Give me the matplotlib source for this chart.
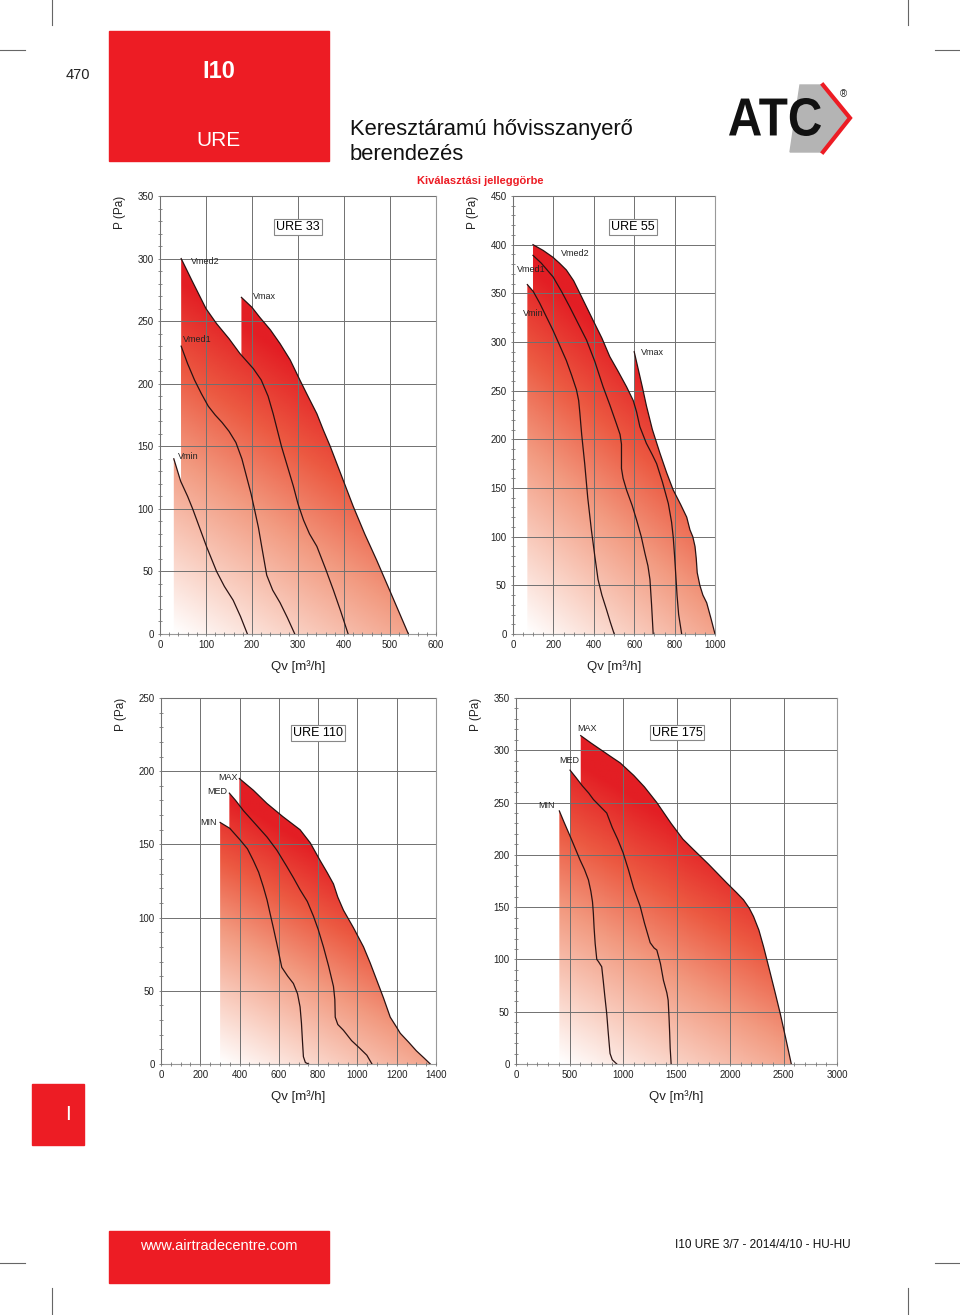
#!/usr/bin/env python3
"""
URE cross-flow heat recovery unit - selection curves page (I10 URE 3/7).
"""

import matplotlib

matplotlib.use("Agg")

import numpy as np
import matplotlib.pyplot as plt
from matplotlib.colors import LinearSegmentedColormap
from matplotlib.font_manager import FontProperties
from matplotlib.lines import Line2D
from matplotlib.patches import PathPatch, Polygon, Rectangle
from matplotlib.textpath import TextPath
from matplotlib.ticker import MultipleLocator
from matplotlib.transforms import Affine2D

plt.rcParams["font.family"] = ["Liberation Sans", "DejaVu Sans"]

# ---- data: Qv [m3/h] vs P [Pa] ----
URE33_VMIN_Q = [30, 45, 60, 71, 86, 101, 112, 123, 140, 159, 175, 190]
URE33_VMIN_P = [140, 122, 110, 100, 85, 70, 60, 50, 38, 27, 14, 0]
URE33_VMED1_Q = [46, 60, 75, 90, 105, 120, 135, 150, 165, 178, 188, 198, 207, 214, 222, 232, 245, 261, 277, 293]
URE33_VMED1_P = [230, 216, 203, 192, 182, 175, 169, 162, 153, 140, 126, 112, 97, 85, 68, 47, 35, 25, 13, 0]
URE33_VMED2_Q = [46, 70, 100, 123, 150, 174, 203, 220, 235, 246, 255, 264, 277, 290, 300, 312, 325, 341, 360, 377, 393, 409]
URE33_VMED2_P = [300, 282, 260, 248, 236, 224, 212, 203, 190, 176, 163, 150, 134, 118, 104, 91, 80, 70, 52, 35, 18, 0]
URE33_VMAX_Q = [177, 200, 217, 240, 261, 283, 304, 323, 341, 355, 370, 395, 420, 445, 471, 505, 540]
URE33_VMAX_P = [269, 261, 253, 243, 232, 219, 203, 189, 176, 163, 150, 126, 102, 80, 59, 30, 0]

URE55_VMIN_Q = [71, 100, 132, 165, 198, 230, 264, 290, 314, 325, 331, 340, 355, 370, 388, 405, 421, 440, 463, 482, 501]
URE55_VMIN_P = [359, 352, 340, 326, 312, 297, 281, 266, 251, 240, 227, 205, 175, 140, 107, 80, 56, 40, 25, 12, 0]
URE55_VMED1_Q = [99, 140, 198, 240, 281, 320, 364, 405, 446, 480, 512, 530, 537, 537, 545, 562, 590, 612, 635, 653, 668, 678, 686, 694]
URE55_VMED1_P = [389, 381, 367, 352, 336, 320, 302, 280, 254, 235, 216, 205, 195, 170, 160, 148, 132, 117, 100, 83, 70, 56, 30, 0]
URE55_VMED2_Q = [99, 150, 198, 230, 264, 300, 331, 364, 397, 440, 479, 520, 562, 595, 612, 628, 660, 690, 711, 740, 769, 785, 793, 800, 806, 812, 820, 835]
URE55_VMED2_P = [400, 394, 387, 381, 374, 363, 350, 336, 322, 304, 285, 270, 254, 240, 228, 213, 196, 184, 175, 156, 134, 115, 100, 80, 60, 40, 20, 0]
URE55_VMAX_Q = [600, 620, 640, 661, 690, 727, 760, 793, 830, 860, 876, 890, 901, 907, 912, 925, 940, 959, 980, 1000]
URE55_VMAX_P = [290, 272, 254, 234, 210, 186, 166, 148, 133, 120, 107, 100, 90, 78, 63, 50, 40, 32, 16, 0]

URE110_MIN_Q = [301, 350, 403, 440, 470, 497, 521, 540, 555, 572, 590, 615, 645, 674, 695, 708, 715, 720, 725, 735, 751]
URE110_MIN_P = [165, 161, 153, 147, 139, 131, 121, 112, 103, 93, 82, 66, 60, 55, 48, 39, 28, 16, 5, 1, 0]
URE110_MED_Q = [348, 380, 420, 480, 540, 590, 640, 675, 708, 745, 776, 800, 827, 853, 878, 885, 887, 900, 929, 970, 1010, 1048, 1074]
URE110_MED_P = [185, 180, 173, 164, 155, 146, 135, 127, 119, 111, 101, 92, 80, 67, 53, 44, 32, 27, 23, 16, 11, 6, 0]
URE110_MAX_Q = [399, 470, 539, 620, 708, 760, 810, 845, 878, 900, 929, 980, 1031, 1065, 1099, 1133, 1167, 1200, 1218, 1260, 1300, 1340, 1371]
URE110_MAX_P = [195, 187, 178, 169, 160, 151, 139, 131, 123, 114, 105, 93, 80, 69, 57, 45, 32, 25, 21, 15, 9, 4, 0]

URE175_MIN_Q = [405, 450, 505, 550, 599, 640, 677, 700, 715, 723, 730, 740, 755, 770, 801, 815, 830, 848, 862, 872, 879, 900, 942]
URE175_MIN_P = [242, 231, 218, 207, 195, 186, 176, 165, 155, 144, 130, 115, 100, 98, 93, 80, 65, 48, 30, 18, 10, 4, 0]
URE175_MED_Q = [505, 560, 620, 680, 723, 790, 848, 900, 950, 1001, 1050, 1100, 1160, 1200, 1254, 1290, 1316, 1350, 1378, 1410, 1422, 1430, 1436, 1441, 1450]
URE175_MED_P = [281, 274, 266, 259, 253, 246, 240, 226, 215, 202, 186, 168, 151, 135, 116, 111, 109, 96, 80, 68, 61, 45, 30, 15, 0]
URE175_MAX_Q = [605, 700, 800, 900, 973, 1100, 1200, 1316, 1450, 1560, 1659, 1800, 1971, 2060, 2126, 2180, 2220, 2270, 2314, 2376, 2420, 2470, 2520, 2573]
URE175_MAX_P = [314, 307, 300, 293, 288, 276, 265, 250, 230, 215, 205, 191, 173, 164, 157, 149, 141, 128, 112, 87, 69, 48, 25, 0]

RED = "#ed1c24"
W, H = 960, 1315

GRAD = LinearSegmentedColormap.from_list(
    "ure", [(0.0, "#ffffff"), (0.25, "#f9cdbf"), (0.5, "#f29a80"), (0.75, "#ec5a42"), (1.0, "#e31e24")]
)


def fx(x):
    return x / W


def fy(y):
    return 1 - y / H


def add_chart(fig, box, name, curves, xmax, ymax, xstep, xminor, name_pos):
    left, top, right, bottom = box
    ax = fig.add_axes([fx(left), fy(bottom), (right - left) / W, (bottom - top) / H])

    qmin = min(c[0][0] for c in curves)
    qmax = max(c[0][-1] for c in curves)
    pmax = max(c[1][0] for c in curves)
    gx, gy = np.meshgrid(np.linspace(0, xmax, 300), np.linspace(0, ymax, 300))
    t = np.clip(0.45 * (gx - qmin) / (qmax - qmin) + 1.05 * gy / pmax, 0, 1)

    for q, p, label, lx, ly in curves:
        verts = [(q[0], 0)] + list(zip(q, p))
        poly = Polygon(verts, closed=True, facecolor="none", edgecolor="none")
        ax.add_patch(poly)
        im = ax.imshow(t, extent=(0, xmax, 0, ymax), origin="lower", aspect="auto",
                       cmap=GRAD, vmin=0, vmax=1, zorder=1, interpolation="bilinear")
        im.set_clip_path(poly)
    for q, p, label, lx, ly in curves:
        ax.plot(q, p, color="#2a1212", lw=0.9, zorder=3)
        ax.text(lx, ly, label, fontsize=6.5, ha="left", va="center", color="#222", zorder=4)

    ax.set_xlim(0, xmax)
    ax.set_ylim(0, ymax)
    ax.set_xticks(np.arange(0, xmax + 1, xstep))
    ax.set_yticks(np.arange(0, ymax + 1, 50))
    ax.xaxis.set_minor_locator(MultipleLocator(xminor))
    ax.yaxis.set_minor_locator(MultipleLocator(10))
    ax.set_axisbelow(False)
    ax.grid(True, color="#707070", lw=0.7)
    ax.tick_params(which="both", direction="inout", color="#777", width=0.6, labelsize=7,
                   labelcolor="#222")
    ax.tick_params(which="major", length=3, pad=3)
    ax.tick_params(which="minor", length=2.5)
    for s in ax.spines.values():
        s.set_color("#999")
        s.set_linewidth(0.8)
    ax.text(name_pos[0], name_pos[1], name, fontsize=9, ha="center", va="center", zorder=5,
            bbox=dict(boxstyle="square,pad=0.15", fc="white", ec="#888", lw=0.8))

    fig.text(fx(left - 40), fy(top + 16), "P (Pa)", rotation=90, fontsize=8.5,
             ha="center", va="center", color="#222")
    fig.text(fx((left + right) / 2), fy(bottom + 33), "Qv [m³/h]", fontsize=9.5,
             ha="center", va="center", color="#222")
    return ax


def draw_logo(fig):
    fig.add_artist(Polygon([(fx(800), fy(85)), (fx(823), fy(85)), (fx(849), fy(118)), (fx(823), fy(152)),
                            (fx(790), fy(152))], closed=True, color="#b4b4b4", transform=fig.transFigure))
    fig.add_artist(Line2D([fx(823), fx(850), fx(823)], [fy(85), fy(118), fy(152)], color=RED, lw=3,
                          solid_joinstyle="miter"))
    # squeezed heavy "ATC" lettering: 729..820 px wide, 98..136 px tall
    path = TextPath((0, 0), "ATC", size=1, prop=FontProperties(family="Liberation Sans", weight="bold"))
    ext = path.get_extents()
    sx = 92 / ext.width
    sy = 38 / ext.height
    tr = Affine2D().translate(-ext.x0, -ext.y0).scale(sx / W, sy / H).translate(fx(729), fy(136))
    fig.add_artist(PathPatch(path, transform=tr + fig.transFigure, color="#111", lw=0))
    fig.text(fx(843), fy(94), "®", fontsize=7, ha="center", va="center", color="#222")


def main() -> int:
    fig = plt.figure(figsize=(W / 100, H / 100), dpi=100)

    # crop marks
    for xs, ys in [((52, 52), (0, 25)), ((908, 908), (0, 25)), ((0, 25), (50, 50)), ((935, 960), (50, 50)),
                   ((52, 52), (1288, 1315)), ((908, 908), (1288, 1315)),
                   ((0, 25), (1263, 1263)), ((935, 960), (1263, 1263))]:
        fig.add_artist(Line2D([fx(v) for v in xs], [fy(v) for v in ys], color="#666", lw=0.8))

    # header
    fig.add_artist(Rectangle((fx(109), fy(161)), 220 / W, 130 / H, color=RED, transform=fig.transFigure))
    fig.text(fx(78), fy(75), "470", fontsize=10.5, ha="center", va="center", color="#222")
    fig.text(fx(219), fy(72), "I10", fontsize=17, ha="center", va="center", color="white", weight="bold")
    fig.text(fx(219), fy(140), "URE", fontsize=15, ha="center", va="center", color="white")
    fig.text(fx(350), fy(130), "Keresztáramú hővisszanyerő", fontsize=15.8, ha="left", va="center", color="#111")
    fig.text(fx(350), fy(154), "berendezés", fontsize=15.8, ha="left", va="center", color="#111")
    fig.text(fx(480), fy(181), "Kiválasztási jelleggörbe", fontsize=8, ha="center", va="center",
             color=RED, weight="bold")
    draw_logo(fig)

    # charts
    add_chart(fig, (160, 196, 436, 634), "URE 33", [
        (URE33_VMIN_Q, URE33_VMIN_P, "Vmin", 39, 142),
        (URE33_VMED1_Q, URE33_VMED1_P, "Vmed1", 50, 235),
        (URE33_VMED2_Q, URE33_VMED2_P, "Vmed2", 67, 298),
        (URE33_VMAX_Q, URE33_VMAX_P, "Vmax", 202, 270),
    ], 600, 350, 100, 20, (300, 325))

    add_chart(fig, (513, 196, 715, 634), "URE 55", [
        (URE55_VMIN_Q, URE55_VMIN_P, "Vmin", 50, 329),
        (URE55_VMED1_Q, URE55_VMED1_P, "Vmed1", 20, 374),
        (URE55_VMED2_Q, URE55_VMED2_P, "Vmed2", 238, 391),
        (URE55_VMAX_Q, URE55_VMAX_P, "Vmax", 634, 289),
    ], 1000, 450, 200, 50, (594, 418))

    add_chart(fig, (161, 698, 436, 1064), "URE 110", [
        (URE110_MIN_Q, URE110_MIN_P, "MIN", 199, 165),
        (URE110_MED_Q, URE110_MED_P, "MED", 234, 186),
        (URE110_MAX_Q, URE110_MAX_P, "MAX", 290, 196),
    ], 1400, 250, 200, 50, (799, 226))

    add_chart(fig, (516, 698, 837, 1064), "URE 175", [
        (URE175_MIN_Q, URE175_MIN_P, "MIN", 206, 247),
        (URE175_MED_Q, URE175_MED_P, "MED", 402, 290),
        (URE175_MAX_Q, URE175_MAX_P, "MAX", 570, 321),
    ], 3000, 350, 500, 100, (1505, 317))

    # side tab and footer
    fig.add_artist(Rectangle((fx(32), fy(1145)), 52 / W, 61 / H, color=RED, transform=fig.transFigure))
    fig.text(fx(68), fy(1115), "I", fontsize=15, ha="center", va="center", color="white")
    fig.add_artist(Rectangle((fx(109), fy(1283)), 220 / W, 52 / H, color=RED, transform=fig.transFigure))
    fig.text(fx(219), fy(1246), "www.airtradecentre.com", fontsize=10.5, ha="center", va="center", color="white")
    fig.text(fx(851), fy(1245), "I10 URE 3/7 - 2014/4/10 - HU-HU", fontsize=8.5, ha="right", va="center",
             color="#111")

    fig.savefig("out.png", dpi=100)
    plt.close(fig)
    return 0


if __name__ == "__main__":
    raise SystemExit(main())
